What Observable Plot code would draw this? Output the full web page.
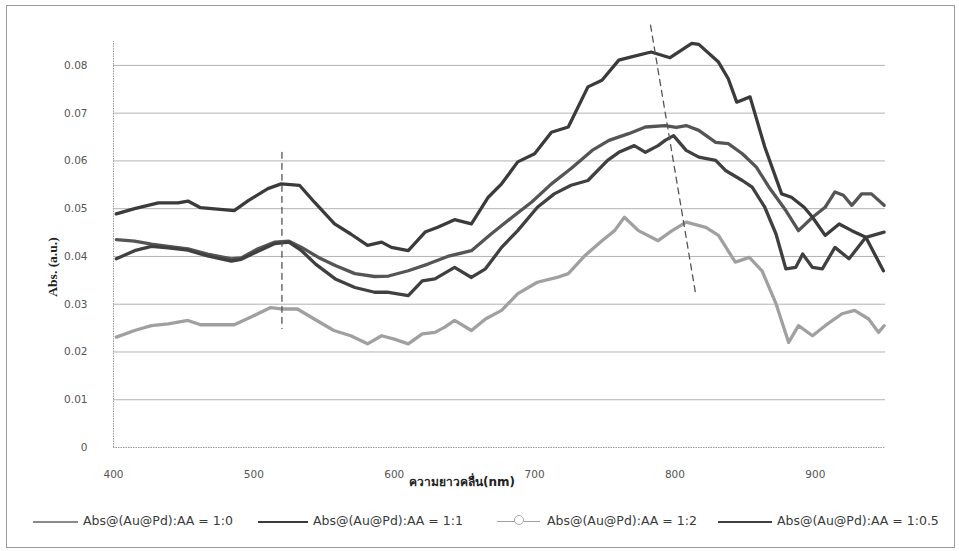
<!DOCTYPE html>
<html><head><meta charset="utf-8">
<script src="https://cdn.jsdelivr.net/npm/d3@7"></script>
<script src="https://cdn.jsdelivr.net/npm/@observablehq/plot@0.6"></script>
<style>
body{margin:0;background:#fff;}
#wrap{position:relative;width:959px;height:551px;overflow:hidden;background:#fff;}
#frame{position:absolute;left:6px;top:5px;width:949px;height:543px;border:1px solid #9a9a9a;box-sizing:border-box;pointer-events:none;}
#chart{position:absolute;left:0;top:0;}
#xtitle{position:absolute;left:462px;top:472px;transform:translateX(-50%);font:bold 12px "DejaVu Sans",sans-serif;color:#222;white-space:nowrap;}
#ytitle{position:absolute;left:53px;top:267px;transform:translate(-50%,-50%) rotate(-90deg);font:bold 13.5px "Liberation Serif",serif;color:#222;white-space:nowrap;}
.sw{position:absolute;top:521px;height:0;border-top:2px solid #555;}
.lt{position:absolute;top:513px;font:12.5px "DejaVu Sans",sans-serif;color:#3a3a3a;white-space:nowrap;line-height:16px;}
.mk{position:absolute;top:515px;width:8px;height:8px;border:1px solid #aaa;border-radius:50%;background:#fff;}
</style></head>
<body>
<div id="wrap">
  <div id="chart"></div>
  <div id="xtitle">ความยาวคลื่น(nm)</div>
  <div id="ytitle">Abs. (a.u.)</div>
  <div id="legend"></div>
  <div id="frame"></div>
</div>
<script>
// ---- data ----
const seriesNames = ["Abs@(Au@Pd):AA = 1:0", "Abs@(Au@Pd):AA = 1:1", "Abs@(Au@Pd):AA = 1:2", "Abs@(Au@Pd):AA = 1:0.5"];

const xTicks = [400, 500, 600, 700, 800, 900];
const yTicks = [0, 0.01, 0.02, 0.03, 0.04, 0.05, 0.06, 0.07, 0.08];

// 1:1 (top curve)
const wl11 = [402,415,432,446,453,462,486,496,510,519.5,532.5,543,557.5,569,581,591,598,610,622,631,643,655,667,676.5,688,700,712,724,738,748,760,769,783,796.5,812,817,831,838,844,853.5,864,876,883,892,898,907,917,926,936,948.5];
const abs11 = [0.0489,0.0500,0.0512,0.0512,0.0516,0.0502,0.0496,0.0517,0.0542,0.0552,0.0549,0.0514,0.0468,0.0447,0.0423,0.0430,0.0419,0.0412,0.0451,0.0461,0.0477,0.0468,0.0524,0.0552,0.0598,0.0615,0.0660,0.0671,0.0755,0.0769,0.0811,0.0818,0.0828,0.0816,0.0846,0.0844,0.0807,0.0772,0.0723,0.0734,0.0629,0.0531,0.0524,0.0503,0.0482,0.0444,0.0468,0.0454,0.0440,0.0370];

// 1:0
const wl10 = [402,415,427,439,453,467,484,491,503,515,525,534,546,558,572,586,596,610,624,638,655,669,684,698,712,726,741,753,767,779,793,801,808,817,829,838,848,858,867,879,888,898,907,914,920,926,933,940,949];
const abs10 = [0.0435,0.0432,0.0426,0.0421,0.0416,0.0405,0.0395,0.0397,0.0416,0.0430,0.0432,0.0419,0.0398,0.0381,0.0364,0.0358,0.0359,0.0370,0.0384,0.0400,0.0412,0.0447,0.0482,0.0514,0.0552,0.0584,0.0622,0.0643,0.0657,0.0671,0.0674,0.0670,0.0674,0.0664,0.0639,0.0636,0.0615,0.0587,0.0545,0.0496,0.0454,0.0482,0.0503,0.0535,0.0528,0.0507,0.0531,0.0531,0.0507];

// 1:0.5
const wl105 = [402,415,427,439,453,467,484,491,503,515,525,534,544,558,572,586,596,610,620,629,643,655,665,676.5,688,702,714,726,738,752,760,771,779,788,793,799,808,817,829,836,848,855,864,872,879,886,891,898,905,914,924,936,949];
const abs105 = [0.0395,0.0412,0.0421,0.0418,0.0413,0.0401,0.0390,0.0394,0.0411,0.0427,0.0430,0.0412,0.0384,0.0353,0.0335,0.0325,0.0325,0.0318,0.0349,0.0353,0.0377,0.0356,0.0374,0.0419,0.0454,0.0503,0.0531,0.0549,0.0559,0.0601,0.0618,0.0632,0.0618,0.0632,0.0643,0.0653,0.0622,0.0608,0.0601,0.0580,0.0559,0.0545,0.0503,0.0447,0.0374,0.0377,0.0405,0.0377,0.0374,0.0419,0.0395,0.0440,0.0451];

// 1:2 (light curve)
const wl12 = [402,415,427,439,453,462,486,498,512,519.5,531,543,557,569,581,591,600,610,620,629,636,643,655,665,676.5,688,702,716,724,736,748,757,764,774,788,798,808,822,831,843,853,862,872,881,888,898,907,919,928,938,945,949];
const abs12 = [0.0231,0.0245,0.0255,0.0259,0.0266,0.0257,0.0257,0.0273,0.0293,0.0290,0.0290,0.0269,0.0245,0.0234,0.0217,0.0234,0.0227,0.0217,0.0238,0.0241,0.0252,0.0266,0.0245,0.0269,0.0287,0.0322,0.0346,0.0356,0.0364,0.0402,0.0433,0.0454,0.0482,0.0454,0.0433,0.0454,0.0472,0.0461,0.0444,0.0388,0.0398,0.0370,0.0301,0.0220,0.0255,0.0234,0.0255,0.0280,0.0287,0.0269,0.0241,0.0255];

// dashed guide lines
const guide1X = [520, 520];
const guide1Y = [0.0618, 0.0249];
const guide2X = [782.6, 814.6];
const guide2Y = [0.0884, 0.0324];

// ---- build ----
const colors = {"1:0":"#555555", "1:1":"#3b3b3b", "1:2":"#a0a0a0", "1:0.5":"#404040"};
const toRows = (xs, ys, key) => xs.map((x, i) => ({wl: x, abs: ys[i], key}));
const data = [
  ...toRows(wl12, abs12, "1:2"),
  ...toRows(wl10, abs10, "1:0"),
  ...toRows(wl105, abs105, "1:0.5"),
  ...toRows(wl11, abs11, "1:1")
];
const g1 = guide1X.map((x, i) => ({x, y: guide1Y[i]}));
const g2 = guide2X.map((x, i) => ({x, y: guide2Y[i]}));

const chart = Plot.plot({
  width: 959, height: 500,
  marginLeft: 113, marginRight: 74, marginTop: 41, marginBottom: 53,
  style: {fontFamily: "DejaVu Sans, sans-serif", fontSize: "10.5px", color: "#555", background: "transparent", overflow: "visible"},
  x: {domain: [400, 950]},
  y: {domain: [0, 0.085]},
  marks: [
    Plot.ruleY(yTicks.filter(d => d > 0), {stroke: "#b3b3b3", strokeWidth: 1}),
    Plot.ruleY([0], {stroke: "#9a9a9a", strokeDasharray: "1.5,1"}),
    Plot.ruleX([400], {y1: 0, y2: 0.085, stroke: "#9a9a9a", strokeDasharray: "1.5,1"}),
    Plot.axisY({ticks: yTicks, tickSize: 0, tickPadding: 26, label: null,
      tickFormat: d => d === 0 ? "0" : d.toFixed(2), fill: "#555"}),
    Plot.axisX({ticks: xTicks, tickSize: 0, tickPadding: 23, label: null, fill: "#555"}),
    Plot.line(data, {x: "wl", y: "abs", z: "key", stroke: d => colors[d.key],
      strokeWidth: 3.3, strokeLinejoin: "round", strokeLinecap: "round"}),
    Plot.line(g1, {x: "x", y: "y", stroke: "#555", strokeWidth: 1.3, strokeDasharray: "6,5"}),
    Plot.line(g2, {x: "x", y: "y", stroke: "#555", strokeWidth: 1.3, strokeDasharray: "6,5"})
  ]
});
document.getElementById("chart").appendChild(chart);

// legend
const legendKeys = ["1:0", "1:1", "1:2", "1:0.5"];
const swLeft = [33, 258, 497, 718];
const swWidth = [45, 50, 43, 54];
const txtLeft = [83, 313, 547, 777];
const leg = document.getElementById("legend");
legendKeys.forEach((k, i) => {
  const s = document.createElement("div");
  s.className = "sw";
  s.style.left = swLeft[i] + "px";
  s.style.width = swWidth[i] + "px";
  s.style.borderTopColor = k === "1:0" ? "#8a8a8a" : colors[k];
  s.style.borderTopWidth = k === "1:2" ? "1px" : "2px";
  leg.appendChild(s);
  if (k === "1:2") {
    const m = document.createElement("div");
    m.className = "mk";
    m.style.left = (swLeft[i] + swWidth[i] / 2 - 5) + "px";
    leg.appendChild(m);
  }
  const t = document.createElement("div");
  t.className = "lt";
  t.style.left = txtLeft[i] + "px";
  t.textContent = seriesNames[i];
  leg.appendChild(t);
});
</script>
</body></html>
